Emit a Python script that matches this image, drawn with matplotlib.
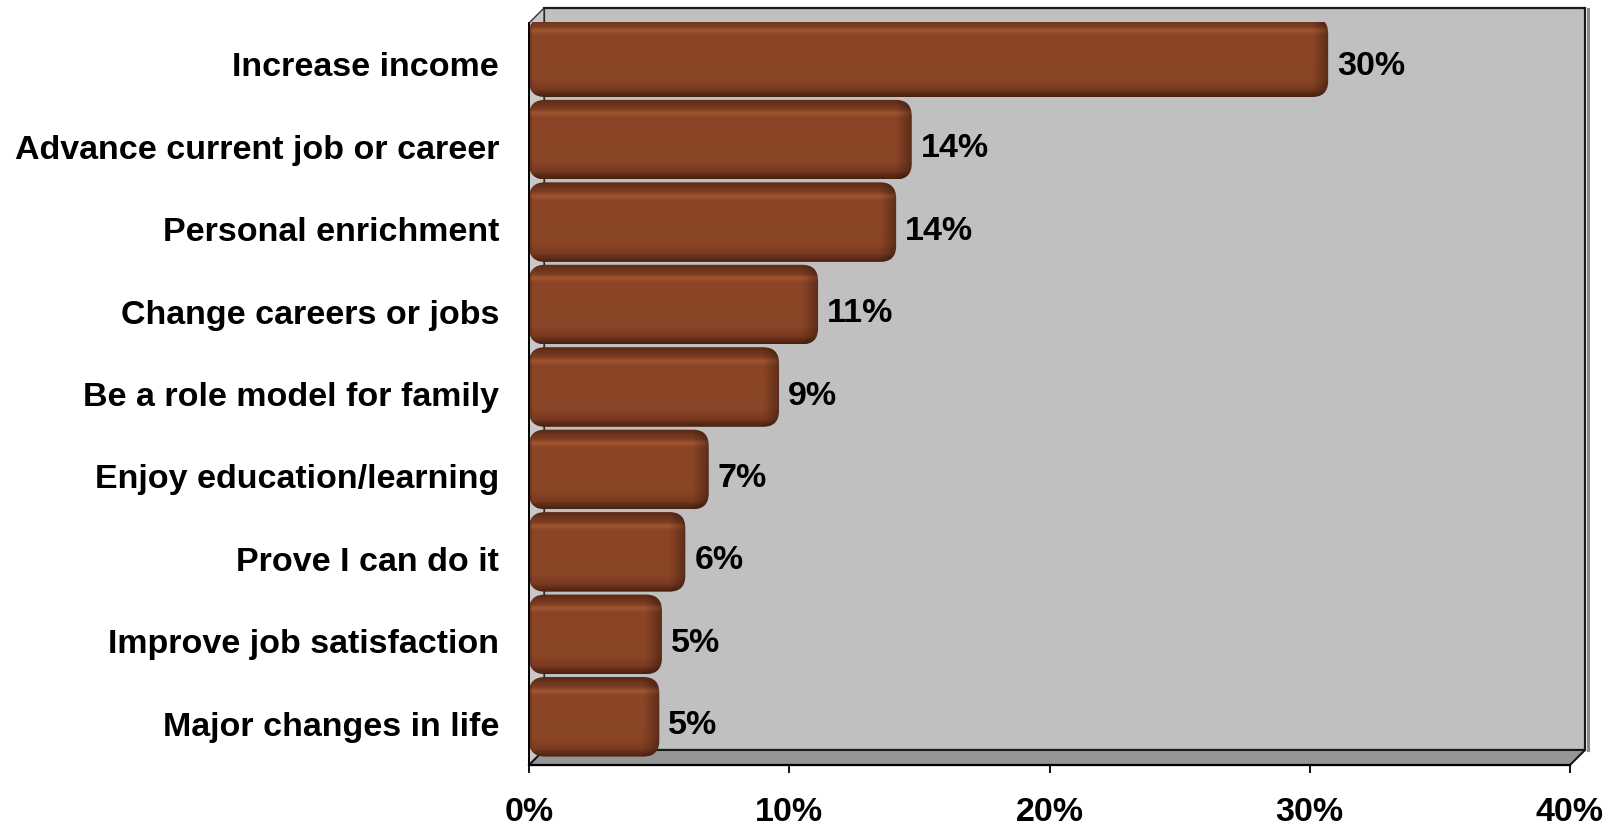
import numpy as np
import matplotlib
matplotlib.use("Agg")
import matplotlib.pyplot as plt
from matplotlib.patches import FancyBboxPatch, Polygon, Rectangle
from matplotlib.transforms import ScaledTranslation

# Survey data: reasons for going back to school
categories = [
    "Increase income",
    "Advance current job or career",
    "Personal enrichment",
    "Change careers or jobs",
    "Be a role model for family",
    "Enjoy education/learning",
    "Prove I can do it",
    "Improve job satisfaction",
    "Major changes in life",
]
shares = [30.4, 14.4, 13.8, 10.8, 9.3, 6.6, 5.7, 4.8, 4.7]
x_ticks = [0, 10, 20, 30, 40]
x_tick_labels = ["0%", "10%", "20%", "30%", "40%"]

W, H, DPI = 1623, 825, 100
plt.rcParams["font.family"] = ["Liberation Sans", "DejaVu Sans"]
plt.rcParams["font.weight"] = "bold"
FS = 24.5

fig = plt.figure(figsize=(W / DPI, H / DPI), dpi=DPI)

# front plane of the 3-D plot area, in pixels (y measured from the top)
L, R, T, B = 529, 1570, 23, 765
D = 15  # depth of the 3-D box

# decorative box (walls and floor) drawn in pixel space
deco = fig.add_axes([0, 0, 1, 1], zorder=0)
deco.set_xlim(0, W)
deco.set_ylim(H, 0)
deco.axis("off")
deco.add_patch(Rectangle((L + D, T - D), R - L, B - T, facecolor="#C0C0C0",
                         edgecolor="#1a1a1a", lw=1.6))
deco.plot([R + D + 2.5, R + D + 2.5], [T - D + 1, B - D], color="#8a8a8a", lw=2.2)
deco.add_patch(Polygon([(L, T), (L + D, T - D), (L + D, B - D), (L, B)],
                       closed=True, facecolor="#C8C8C8", edgecolor="#333333", lw=1.0))
deco.add_patch(Polygon([(L, B), (L + D, B - D), (R + D, B - D), (R, B)],
                       closed=True, facecolor="#969696", edgecolor="#1a1a1a", lw=1.5))

ax = fig.add_axes([L / W, (H - B) / H, (R - L) / W, (B - T) / H], zorder=1)
ax.set_facecolor("none")
n = len(categories)
ax.set_xlim(0, 40)
ax.set_ylim(n - 0.5, -0.5)

ppu = (R - L) / 40.0          # pixels per percentage point
ppy = (B - T) / n             # pixels per category
bar_h = 0.965
side = 8 / ppu                # visible side face of each bar
radius = 16 / ppu
aspect = (16 / ppy) / radius

# bars sit halfway into the box depth: shift them up
bar_tr = ax.transData + ScaledTranslation(0, 7 / DPI, fig.dpi_scale_trans)

def hex2rgb(h):
    h = h.lstrip("#")
    return np.array([int(h[i:i + 2], 16) for i in (0, 2, 4)]) / 255.0

stops_t = [0.0, 0.05, 0.12, 0.17, 0.23, 0.78, 0.9, 1.0]
stops_c = [hex2rgb(c) for c in ["#5a2914", "#6a321b", "#7c3d22", "#a3552f",
                                 "#8c4527", "#8a4426", "#7a3a20", "#4a2010"]]
rows = 90
tt = np.linspace(0, 1, rows)
vprof = np.stack([np.interp(tt, stops_t, [c[k] for c in stops_c]) for k in range(3)], axis=1)

for i, v in enumerate(shares):
    end = v + side
    cols = max(int(end * ppu), 4)
    xs = np.arange(cols)
    hfac = np.ones(cols)
    edge = 18
    m = xs > cols - edge
    hfac[m] = 1 - 0.38 * ((xs[m] - (cols - edge)) / edge) ** 1.2
    hfac[:3] = 0.85
    img = np.clip(vprof[:, None, :] * hfac[None, :, None], 0, 1)
    box = FancyBboxPatch((0, i - bar_h / 2), end, bar_h,
                         boxstyle=f"round,pad=0,rounding_size={radius}",
                         mutation_aspect=aspect, transform=bar_tr,
                         facecolor="none", edgecolor="none", clip_on=False, zorder=2)
    ax.add_patch(box)
    im = ax.imshow(img, extent=(0, end, i + bar_h / 2, i - bar_h / 2),
                   origin="upper", aspect="auto", interpolation="bilinear",
                   transform=bar_tr, zorder=2)
    im.set_clip_box(None)
    im.set_clip_path(box)
    ax.annotate(f"{v:.0f}%", xy=(end, i), xytext=(9, -2), textcoords="offset pixels",
                ha="left", va="center", fontsize=FS, fontweight="bold",
                color="black", zorder=3)

ax.set_ylim(n - 0.5, -0.5)
ax.set_xlim(0, 40)
ax.set_yticks(range(n))
ax.set_yticklabels(categories, fontsize=FS, fontweight="bold")
ax.set_xticks(x_ticks)
ax.set_xticklabels(x_tick_labels, fontsize=FS, fontweight="bold")
ax.tick_params(axis="y", length=0, pad=21.5)
ax.tick_params(axis="x", length=6, width=1.3, direction="out", pad=17, color="black")
for s in ("top", "right"):
    ax.spines[s].set_visible(False)
ax.spines["bottom"].set_linewidth(1.6)
ax.spines["left"].set_linewidth(1.4)

fig.savefig("out.png", dpi=DPI)
